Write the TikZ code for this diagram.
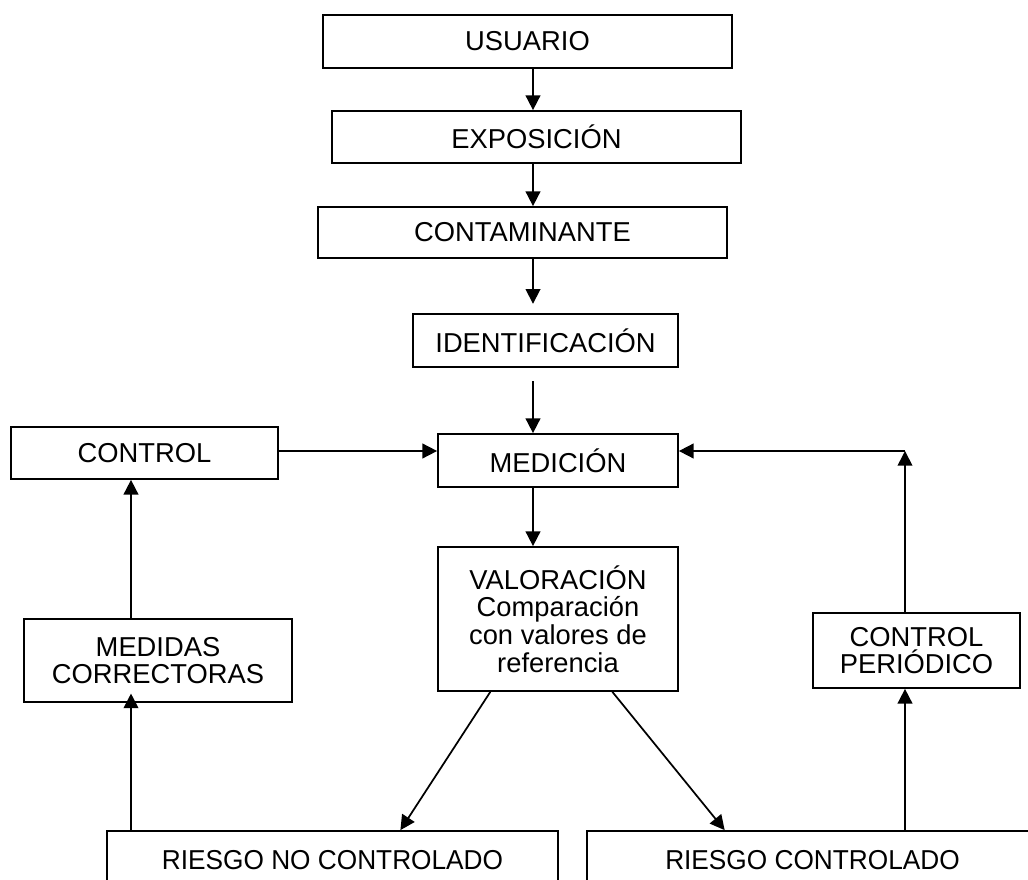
\documentclass[tikz,border=0pt]{standalone}
\usepackage{fontspec}
\setmainfont{Liberation Sans}
\newfontfamily\narrowsans[FakeStretch=0.96]{Liberation Sans}
\usetikzlibrary{arrows.meta,calc}
\begin{document}
\begin{tikzpicture}[x=0.75pt,y=-0.75pt,
  box/.style={draw, line width=1.3pt, inner sep=0pt, align=center,
    font=\fontsize{20.5}{20.8}\selectfont},
  lowbox/.style={box, font=\narrowsans\fontsize{20.5}{20.8}\selectfont},
  arr/.style={line width=1.3pt, -{Triangle[length=11pt,width=11pt]}}]
  \useasboundingbox (0,0) rectangle (1028,880);
  \coordinate (ax) at (533,0);
  \coordinate (lx) at (131,0);
  \coordinate (corner) at (905,451);
  \node[box, minimum width=306.75pt, minimum height=39.75pt] (usuario) at (527.5,41.5) {USUARIO};
  \node[box, minimum width=306.75pt, minimum height=39pt] (exposicion) at (536.5,137) {EXPOSICIÓN};
  \node[box, minimum width=306.75pt, minimum height=38.25pt] (contaminante) at (522.5,232.5) {CONTAMINANTE};
  \node[box, minimum width=198.75pt, minimum height=39.75pt] (identificacion) at (545.5,340.5) {IDENTIFICACIÓN};
  \node[box, minimum width=180pt, minimum height=39.75pt] (medicion) at (558,460.5) {MEDICIÓN};
  \node[box, minimum width=180pt, minimum height=108pt] (valoracion) at (558,619) {VALORACIÓN\\Comparación\\con valores de\\referencia};
  \node[box, minimum width=200.25pt, minimum height=39pt] (control) at (144.5,453) {CONTROL};
  \node[box, minimum width=201pt, minimum height=62.25pt] (medidas) at (158,660.5) {MEDIDAS\\CORRECTORAS};
  \node[box, minimum width=155.25pt, minimum height=56.25pt] (periodico) at (916.5,650.5) {CONTROL\\PERIÓDICO};
  \node[lowbox, minimum width=338.25pt, minimum height=43.5pt] (riesgono) at (332.5,860) {RIESGO NO CONTROLADO};
  \node[lowbox, minimum width=338.25pt, minimum height=43.5pt] (riesgoc) at (812.5,860) {RIESGO CONTROLADO};
  \draw[arr] (usuario.south -| ax) -- (exposicion.north -| ax);
  \draw[arr] (exposicion.south -| ax) -- (contaminante.north -| ax);
  \draw[arr, shorten >=7pt] (contaminante.south -| ax) -- (identificacion.north -| ax);
  \draw[arr, shorten <=10pt] (identificacion.south -| ax) -- (medicion.north -| ax);
  \draw[arr] (medicion.south -| ax) -- (valoracion.north -| ax);
  \draw[arr] (control.east |- corner) -- (medicion.west |- corner);
  \draw[arr] (corner) -- (medicion.east |- corner);
  \draw[arr] (periodico.north -| corner) -- (corner);
  \draw[arr] (medidas.north -| lx) -- (control.south -| lx);
  \draw[arr, shorten >=-7pt] (riesgono.north -| lx) -- (medidas.south -| lx);
  \draw[arr] (riesgoc.north -| corner) -- (periodico.south -| corner);
  \draw[arr] ($(valoracion.south west)!0.22!(valoracion.south east)$) -- ($(riesgono.north west)!0.65!(riesgono.north east)$);
  \draw[arr] ($(valoracion.south west)!0.725!(valoracion.south east)$) -- ($(riesgoc.north west)!0.306!(riesgoc.north east)$);
\end{tikzpicture}
\end{document}
